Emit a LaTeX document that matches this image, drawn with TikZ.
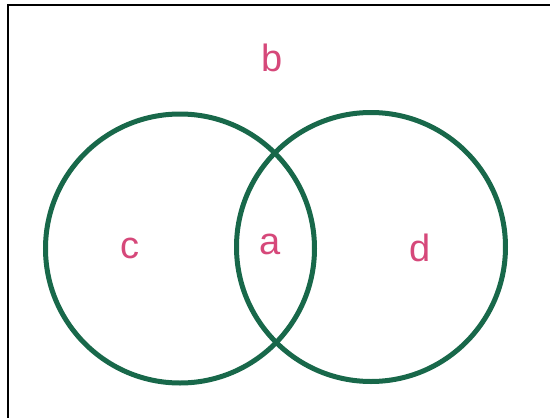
\documentclass[tikz,border=0pt]{standalone}
\usepackage{fontspec}
\setmainfont{Liberation Sans}
\definecolor{vgreen}{RGB}{24,104,74}
\definecolor{vpink}{RGB}{214,72,122}
\begin{document}
\begin{tikzpicture}[x=1pt,y=-1pt,
  ring/.style={draw=vgreen,line width=5pt},
  lbl/.style={text=vpink,font=\fontsize{38}{40}\selectfont,inner sep=0pt},
  frame/.style={draw=black,line width=2.5pt}]
\useasboundingbox (0,0) rectangle (550,418);
\fill[white] (0,0) rectangle (550,418);
\draw[frame] (550,5) -- (8,5) -- (8,418);
\node[ring,circle,minimum size=269pt,inner sep=0pt] (L) at (180,248.5) {};
\node[ring,circle,minimum size=269pt,inner sep=0pt] (R) at (371,247) {};
\node[lbl] (b) at (272,58) {b};
\node[lbl] (c) at (130,248) {c};
\node[lbl] (a) at (270,244) {a};
\node[lbl] (d) at (420,248) {d};
\end{tikzpicture}
\end{document}
